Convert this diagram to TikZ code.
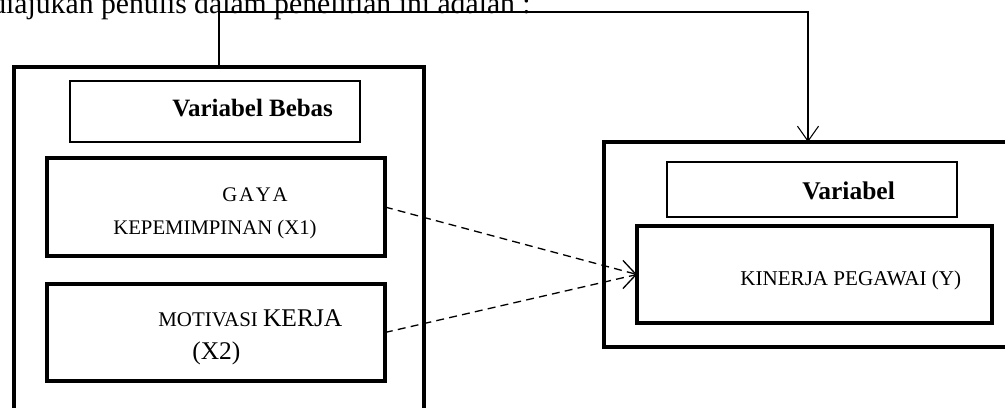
\documentclass[tikz,border=0pt]{standalone}
\usepackage{fontspec}
\setmainfont{Liberation Serif}
\usetikzlibrary{arrows.meta}

\tikzset{
  box/.style={draw, line width=2.3pt, inner sep=0pt, outer sep=0pt},
  headbox/.style={draw, line width=0.75pt, inner sep=0pt, outer sep=0pt},
  lbl/.style={anchor=base west, inner sep=0pt},
  barb/.style={-{Straight Barb[length=8.5pt,width=12pt]}, line width=0.6pt},
}

\begin{document}
\begin{tikzpicture}[x=0.02cm, y=-0.02cm]
        \useasboundingbox (0,0) rectangle (1005,408);
        \node[lbl] (cap) at (-9,14) {\fontsize{16.9}{20}\selectfont diajukan penulis dalam penelitian ini adalah :};

        % variabel bebas
        \node[box, minimum width=8.2cm, minimum height=7.26cm] (bebas) at (219,248.5) {};
        \node[headbox, minimum width=5.8cm, minimum height=1.22cm] (hbebas) at (215,111.5) {};
        \node[lbl] (tbebas) at (172,117) {\fontsize{14.2}{17}\selectfont\bfseries Variabel Bebas};
        \node[box, minimum width=6.76cm, minimum height=1.96cm] (gaya) at (216,207) {};
        \node[lbl] (tgaya) at (222,202) {\fontsize{11.8}{14}\selectfont G\kern1pt A\kern1pt Y\kern1pt A};
        \node[lbl] (tkep) at (113,235) {\fontsize{11.8}{14}\selectfont KEPEMIMPINAN (X1)};
        \node[box, minimum width=6.76cm, minimum height=1.94cm] (motiv) at (216,332.5) {};
        \node[lbl] (tmotiv) at (158,327) {\fontsize{11.9}{14}\selectfont MOTIVASI {\fontsize{14.5}{17}\selectfont KERJA}};
        \node[lbl] (tx2) at (192,360) {\fontsize{14.5}{17}\selectfont (X2)};

        % variabel terikat
        \node[box, minimum width=8.32cm, minimum height=4.1cm] (terikat) at (812,244.5) {};
        \node[headbox, minimum width=5.8cm, minimum height=1.1cm] (hterikat) at (812,189.5) {};
        \node[lbl] (tterikat) at (802,200) {\fontsize{14.5}{17}\selectfont\bfseries Variabel};
        \node[box, minimum width=7.1cm, minimum height=1.94cm] (kinerja) at (814.5,274.5) {};
        \node[lbl] (tkinerja) at (740,286) {\fontsize{12}{14}\selectfont KINERJA PEGAWAI (Y)};

        % connectors
        \coordinate (turn) at (808,12);
        \draw[barb] (bebas.north) |- (turn) -- (turn |- terikat.north);
        \draw[dashed, line width=0.75pt, dash pattern=on 4.5pt off 3pt] (gaya.east) -- (kinerja.west);
        \draw[dashed, line width=0.75pt, dash pattern=on 4.5pt off 3pt] (motiv.east) -- (kinerja.west);
        \draw[-{Straight Barb[length=7.5pt,width=16pt]}, line width=0.75pt] ([xshift=-2pt]kinerja.west) -- (kinerja.west);
\end{tikzpicture}
\end{document}
